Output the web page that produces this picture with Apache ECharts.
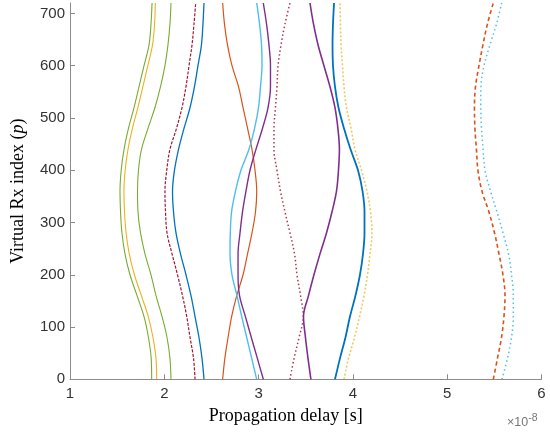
<!DOCTYPE html>
<html>
<head>
<meta charset="utf-8">
<script src="https://cdn.jsdelivr.net/npm/echarts@6/dist/echarts.min.js"></script>
<style>
html,body{margin:0;padding:0;background:#fff;}
#chart{width:550px;height:439px;}
</style>
</head>
<body>
<div id="chart"></div>
<script>
// Virtual Rx index samples (p)
var pIndex = [0,40,80,120,160,200,240,280,320,360,400,440,480,520,560,600,640,680,720];
// Propagation delay (x 1e-8 s) of each traced path at the p samples above
var green1 = [1.866,1.861,1.832,1.785,1.711,1.636,1.583,1.551,1.536,1.530,1.543,1.573,1.620,1.679,1.732,1.785,1.838,1.859,1.870];
var yellow1 = [1.919,1.912,1.880,1.830,1.757,1.683,1.628,1.595,1.578,1.572,1.585,1.615,1.662,1.720,1.773,1.825,1.875,1.897,1.905];
var green2 = [2.071,2.060,2.029,1.976,1.912,1.859,1.795,1.748,1.721,1.716,1.726,1.758,1.827,1.901,1.960,2.007,2.039,2.060,2.071];
var darkred1 = [2.326,2.310,2.273,2.238,2.193,2.140,2.082,2.029,2.013,2.007,2.026,2.060,2.129,2.188,2.230,2.262,2.294,2.315,2.333];
var blue1 = [2.421,2.400,2.368,2.326,2.283,2.230,2.172,2.124,2.098,2.087,2.108,2.151,2.209,2.273,2.320,2.357,2.394,2.410,2.421];
var orange1 = [2.619,2.642,2.676,2.714,2.768,2.835,2.883,2.930,2.967,2.980,2.962,2.930,2.883,2.835,2.787,2.718,2.670,2.638,2.619];
var lightblue1 = [2.980,2.927,2.874,2.821,2.771,2.718,2.697,2.700,2.713,2.755,2.813,2.898,2.957,2.999,3.020,3.036,3.031,3.010,2.980];
var purple1 = [3.050,2.987,2.923,2.860,2.798,2.782,2.782,2.803,2.829,2.866,2.909,2.972,3.041,3.100,3.126,3.126,3.110,3.084,3.050];
var darkred2 = [3.333,3.376,3.429,3.474,3.445,3.407,3.381,3.333,3.280,3.232,3.195,3.163,3.163,3.179,3.195,3.206,3.238,3.280,3.333];
var purple2 = [3.555,3.524,3.497,3.476,3.529,3.587,3.651,3.720,3.778,3.826,3.847,3.857,3.841,3.810,3.757,3.693,3.630,3.582,3.545];
var blue2 = [3.810,3.863,3.921,3.969,4.027,4.075,4.107,4.123,4.123,4.102,4.054,3.975,3.906,3.847,3.810,3.789,3.784,3.789,3.800];
var yellow2 = [3.906,3.953,4.017,4.070,4.118,4.155,4.181,4.202,4.187,4.149,4.091,4.022,3.980,3.932,3.906,3.890,3.874,3.868,3.863];
var orange2 = [5.489,5.533,5.576,5.602,5.613,5.591,5.549,5.502,5.443,5.369,5.326,5.310,5.294,5.289,5.300,5.337,5.379,5.427,5.489];
var lightblue2 = [5.581,5.639,5.682,5.701,5.701,5.682,5.650,5.592,5.528,5.459,5.401,5.380,5.364,5.356,5.358,5.390,5.454,5.523,5.578];

var xTicks = [1,2,3,4,5,6];
var yTicks = [0,100,200,300,400,500,600,700];

var C = {blue:'#0072BD', orange:'#D95319', yellow:'#EDB120', purple:'#7E2F8E', green:'#77AC30', lblue:'#4DBEEE', dred:'#A2142F'};

function pts(arr){ return arr.map(function(v,i){ return [v, pIndex[i]]; }); }
function mk(name, arr, color, width, type, opacity){
  return {
    name: name, type: 'line', data: pts(arr), showSymbol: false, smooth: 0.35,
    silent: true, animation: false,
    lineStyle: {color: color, width: width, type: type || 'solid', opacity: opacity == null ? 1 : opacity}
  };
}

var series = [
  mk('g1', green1, C.green, 1.1),
  mk('y1', yellow1, C.yellow, 1.1),
  mk('g2', green2, C.green, 1.1),
  mk('r1', darkred1, C.dred, 1.2, [3,1.5]),
  mk('b1', blue1, C.blue, 1.3),
  mk('o1', orange1, C.orange, 1.2),
  mk('lb1', lightblue1, C.lblue, 1.4),
  mk('p1', purple1, C.purple, 1.4),
  mk('r2', darkred2, C.dred, 1.5, [1.5,2.5], 0.85),
  mk('p2', purple2, C.purple, 1.6),
  mk('y2', yellow2, C.yellow, 1.6, [2,2], 0.7),
  mk('b2', blue2, C.blue, 1.8),
  mk('o2', orange2, C.orange, 1.6, [4,3]),
  mk('lb2', lightblue2, C.lblue, 1.5, [1.5,3])
];

var axisGray = '#8c8c8c';
var chart = echarts.init(document.getElementById('chart'), null, {renderer:'canvas'});
chart.setOption({
  backgroundColor: '#fff',
  animation: false,
  grid: {left: 70, right: 8.5, top: 3, bottom: 59.7, containLabel: false},
  xAxis: {
    type: 'value', min: 1, max: 6, interval: 1,
    axisLine: {show: true, lineStyle: {color: axisGray, width: 1}},
    axisTick: {show: true, inside: true, length: 5, lineStyle: {color: axisGray}, customValues: xTicks},
    axisLabel: {margin: 7, fontSize: 15, color: '#333', fontFamily: 'Liberation Sans', customValues: xTicks},
    splitLine: {show: false},
    name: 'Propagation delay [s]', nameLocation: 'middle', nameGap: 28,
    nameTextStyle: {fontFamily: 'Liberation Serif', fontSize: 18, color: '#000', padding: [0, 40, 0, 0]}
  },
  yAxis: {
    type: 'value', min: 0, max: 720, interval: 100,
    axisLine: {show: true, lineStyle: {color: axisGray, width: 1}},
    axisTick: {show: true, inside: true, length: 5, lineStyle: {color: axisGray}, customValues: yTicks},
    axisLabel: {margin: 5, fontSize: 15, color: '#333', fontFamily: 'Liberation Sans', customValues: yTicks},
    splitLine: {show: false},
    name: 'Virtual Rx index ({i|p})', nameLocation: 'middle', nameGap: 43,
    nameTextStyle: {fontFamily: 'Liberation Serif', fontSize: 18, color: '#000',
      rich: {i: {fontFamily: 'Liberation Serif', fontStyle: 'italic', fontSize: 18, color: '#000'}}}
  },
  graphic: [{
    type: 'text', left: 507, top: 413, silent: true,
    style: {
      text: '{a|×10}{b|-8}',
      rich: {
        a: {fontFamily: 'Liberation Sans', fontSize: 12.5, fill: '#777', color: '#777'},
        b: {fontFamily: 'Liberation Sans', fontSize: 10.5, fill: '#777', color: '#777', padding: [0,0,8,0]}
      }
    }
  }],
  series: series
});
</script>
</body>
</html>
